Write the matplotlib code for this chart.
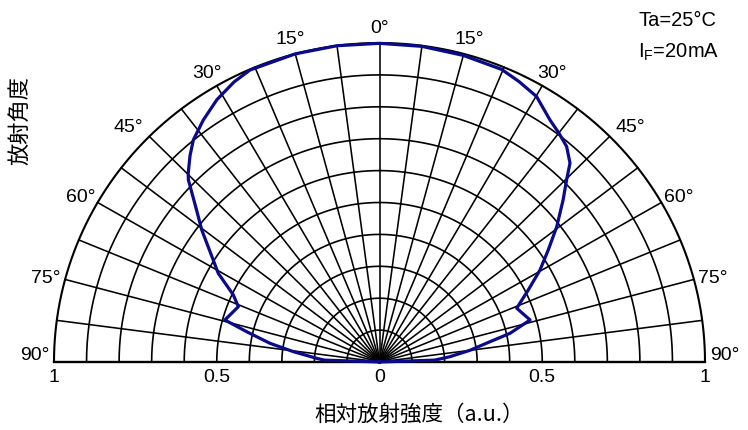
import numpy as np
import matplotlib
matplotlib.use("Agg")
import matplotlib.pyplot as plt

plt.rcParams['font.family'] = ['Liberation Sans', 'Noto Sans CJK JP']
JP = ['Noto Sans CJK JP', 'DejaVu Sans']

# curva de radiación: ángulo (grados, negativo = izquierda) y intensidad relativa
ang_deg = [-90, -88, -86.6, -83.0, -80.1, -76.9, -74.5, -68.2, -64.9, -60.7,
           -56.4, -52.85, -49.7, -45.8, -44.8, -42.0, -39.4, -35.5, -31.3, -27.0,
           -23.5, -15.0, -7.5, 0.0, 7.5, 15.0, 22.25, 26.0, 30.1, 34.6,
           37.5, 40.4, 43.2, 45.2, 48.0, 52.1, 55.9, 59.7, 63.7, 68.2,
           74.1, 77.35, 79.4, 82.5, 85.6, 88, 90]
rel_int = [0.0, 0.17, 0.193, 0.267, 0.342, 0.419, 0.493, 0.467, 0.496, 0.568,
           0.625, 0.685, 0.737, 0.819, 0.834, 0.870, 0.901, 0.932, 0.962, 0.985,
           0.998, 1.0, 1.0, 0.999, 0.998, 0.995, 0.991, 0.978, 0.962, 0.922,
           0.905, 0.887, 0.855, 0.810, 0.759, 0.690, 0.626, 0.571, 0.510, 0.454,
           0.481, 0.411, 0.345, 0.280, 0.217, 0.17, 0.0]

circle_r = [0.1, 0.2, 0.3, 0.4, 0.5, 0.6, 0.7, 0.8, 0.9, 1.0]
spoke_deg = np.arange(-90, 90.1, 7.5)
label_deg = [-90, -75, -60, -45, -30, -15, 0, 15, 30, 45, 60, 75, 90]
tick_pos = [-1, -0.5, 0, 0.5, 1]
tick_txt = ["1", "0.5", "0", "0.5", "1"]

# escala en píxeles (el semicírculo original está algo achatado)
RX, RY = 325.5, 319.0
CX, CY = 379.5, 362.0
W, H = 748, 430

fig = plt.figure(figsize=(W / 100, H / 100), dpi=100)
ax = fig.add_axes([0, 0, 1, 1])
ax.set_xlim(-CX / RX, (W - CX) / RX)
ax.set_ylim(-(H - CY) / RY, CY / RY)
ax.axis('off')

# grilla polar
phi = np.linspace(-np.pi / 2, np.pi / 2, 400)
for r in circle_r:
    ax.plot(r * np.sin(phi), r * np.cos(phi), color='black', lw=1.2 if r < 1 else 1.5,
            solid_capstyle='butt')
for a in spoke_deg:
    t = np.radians(a)
    ax.plot([0, np.sin(t)], [0, np.cos(t)], color='black', lw=1.15)
ax.plot([-1, 1], [0, 0], color='black', lw=1.7)

# curva
th = np.radians(ang_deg)
rr = np.array(rel_int)
ax.plot(rr * np.sin(th), rr * np.cos(th), color='#0a0a8c', lw=2.3, zorder=5)

# etiquetas de ángulo
for a in label_deg:
    t = np.radians(a)
    x = 1.06 * np.sin(t)
    y = 1.06 * np.cos(t)
    if abs(a) == 90:
        y += 0.02
    else:
        y -= 0.013
    if abs(a) == 45:
        x *= 1.03
    ax.text(x, y, f"{abs(a)}°", ha='center', va='center', fontsize=14)

for p, s in zip(tick_pos, tick_txt):
    ax.text(p, -0.05, s, ha='center', va='center', fontsize=14)

ax.text(-1.1045, 0.7586, "放射角度", rotation=90, ha='center', va='center',
        fontsize=16, family=JP)
ax.text(0.123, -0.166, "相対放射強度（a.u.）", ha='center', va='center',
        fontsize=15.5, family=JP)
ax.text(0.797, 1.072, "Ta=25°C", ha='left', va='center', fontsize=14.5)
ax.text(0.794, 0.972, r"$\mathregular{I_F}$=20mA", ha='left', va='center', fontsize=14.5)

fig.savefig("out.png", dpi=100)
